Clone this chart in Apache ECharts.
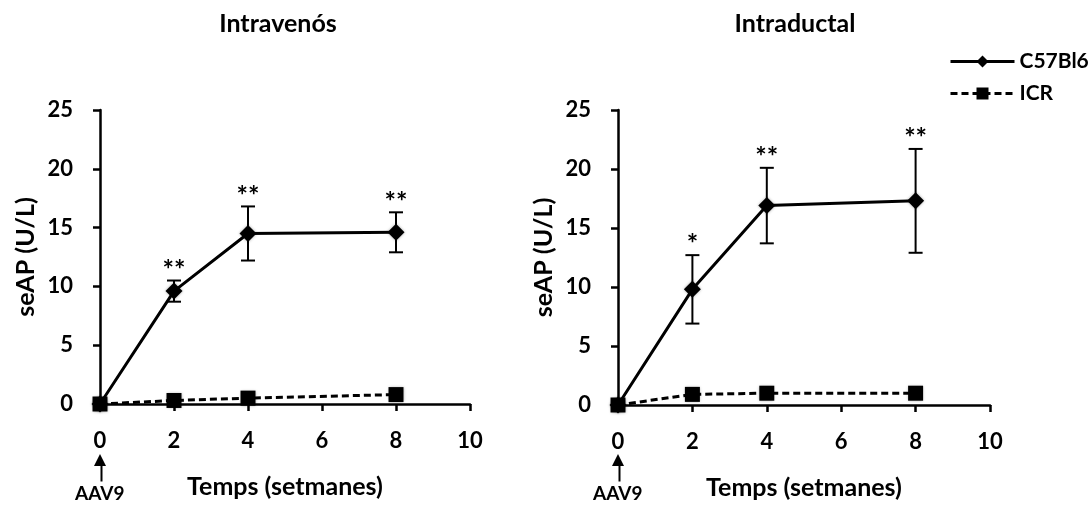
<!DOCTYPE html>
<html>
<head>
<meta charset="utf-8">
<script src="https://cdn.jsdelivr.net/npm/echarts@6/dist/echarts.min.js"></script>
<style>
  html, body { margin: 0; padding: 0; background: #fff; }
  #chart { width: 1091px; height: 506px; }
</style>
</head>
<body>
<div id="chart"></div>
<script>
// weeks after AAV9 injection
const weeks = [0, 2, 4, 8]
const xTicks = [0, 2, 4, 6, 8, 10]
const yTicks = [0, 5, 10, 15, 20, 25]

// Intravenós
const ivC57 = [0, 9.6, 14.5, 14.6]
const ivC57Err = [0, 0.9, 2.3, 1.7]
const ivICR = [0, 0.3, 0.5, 0.8]
const ivStars = ['', '**', '**', '**']

// Intraductal
const idC57 = [0, 9.8, 16.9, 17.3]
const idC57Err = [0, 2.9, 3.2, 4.4]
const idICR = [0, 0.9, 1.0, 1.0]
const idStars = ['', '*', '**', '**']

const FONT = 'Lato'

const chart = echarts.init(document.getElementById('chart'))

function pairs (vals) {
  return weeks.map((w, i) => [w, vals[i]])
}

function xAxisFor (idx) {
  return {
    type: 'value',
    gridIndex: idx,
    min: xTicks[0],
    max: xTicks[xTicks.length - 1],
    interval: 2,
    name: 'Temps (setmanes)',
    nameLocation: 'middle',
    nameGap: 70,
    nameTextStyle: { fontFamily: FONT, fontWeight: 'bold', fontSize: 25, color: '#000' },
    axisLine: { lineStyle: { color: '#000', width: 2.5 } },
    axisTick: { lineStyle: { color: '#000', width: 2.5 }, length: 7 },
    axisLabel: { fontFamily: FONT, fontWeight: 'bold', fontSize: 22, color: '#000', margin: 26 },
    splitLine: { show: false }
  }
}

function yAxisFor (idx) {
  return {
    type: 'value',
    gridIndex: idx,
    min: yTicks[0],
    max: yTicks[yTicks.length - 1],
    interval: 5,
    name: 'seAP (U/L)',
    nameLocation: 'middle',
    nameGap: 62,
    nameRotate: 90,
    nameTextStyle: { fontFamily: FONT, fontWeight: 'bold', fontSize: 25, color: '#000' },
    axisLine: { show: true, lineStyle: { color: '#000', width: 2.5 } },
    axisTick: { show: true, lineStyle: { color: '#000', width: 2.5 }, length: 7 },
    axisLabel: { fontFamily: FONT, fontWeight: 'bold', fontSize: 22, color: '#000', margin: 27 },
    splitLine: { show: false }
  }
}

function errorSeries (idx, vals, errs, stars) {
  return {
    type: 'custom',
    xAxisIndex: idx,
    yAxisIndex: idx,
    silent: true,
    z: 1,
    data: weeks.map((w, i) => [w, vals[i] - errs[i], vals[i] + errs[i], i]),
    renderItem (params, api) {
      const i = api.value(3)
      const lo = api.coord([api.value(0), api.value(1)])
      const hi = api.coord([api.value(0), api.value(2)])
      const children = []
      const st = { stroke: '#000', lineWidth: 2 }
      if (errs[i] > 0) {
        children.push({ type: 'line', shape: { x1: hi[0], y1: hi[1], x2: lo[0], y2: lo[1] }, style: st })
        children.push({ type: 'line', shape: { x1: hi[0] - 7, y1: hi[1], x2: hi[0] + 7, y2: hi[1] }, style: st })
        children.push({ type: 'line', shape: { x1: lo[0] - 7, y1: lo[1], x2: lo[0] + 7, y2: lo[1] }, style: st })
      }
      if (stars[i]) {
        children.push({
          type: 'text',
          style: {
            x: hi[0], y: hi[1] + 3, text: stars[i],
            font: 'bold 27px ' + FONT, fill: '#000',
            align: 'center', verticalAlign: 'bottom'
          }
        })
      }
      return { type: 'group', children }
    }
  }
}

function lineSeries (idx, name, vals, symbol, size, dashed) {
  return {
    name,
    type: 'line',
    xAxisIndex: idx,
    yAxisIndex: idx,
    data: pairs(vals),
    symbol,
    symbolSize: size,
    z: 3,
    lineStyle: { color: '#000', width: 3, type: dashed ? [7, 4] : 'solid' },
    itemStyle: { color: '#000', shadowColor: 'rgba(0,0,0,0.35)', shadowBlur: 3 },
    animation: false
  }
}

function aav9 (x) {
  return [
    {
      type: 'line', left: x - 1, top: 462,
      shape: { x1: 0, y1: 0, x2: 0, y2: 17 },
      style: { stroke: '#000', lineWidth: 2 }
    },
    {
      type: 'polygon',
      shape: { points: [[x - 6, 466], [x + 6, 466], [x, 454]] },
      style: { fill: '#000' }
    },
    {
      type: 'text', left: x - 25, top: 484,
      style: { text: 'AAV9', font: 'bold 19px ' + FONT, fill: '#000' }
    }
  ]
}

chart.setOption({
  animation: false,
  title: [
    { text: 'Intravenós', left: 273, top: 6, textAlign: 'center',
      textStyle: { fontFamily: FONT, fontWeight: 'bold', fontSize: 25, color: '#000' } },
    { text: 'Intraductal', left: 790, top: 6, textAlign: 'center',
      textStyle: { fontFamily: FONT, fontWeight: 'bold', fontSize: 25, color: '#000' } }
  ],
  legend: {
    left: 944,
    top: 46,
    orient: 'vertical',
    itemWidth: 64,
    itemHeight: 15,
    itemGap: 11,
    data: ['C57Bl6', 'ICR'],
    lineStyle: { width: 3 },
    textStyle: { fontFamily: FONT, fontWeight: 'bold', fontSize: 21, color: '#000' }
  },
  grid: [
    { left: 100, right: 621, top: 110, bottom: 102 },
    { left: 618, right: 101, top: 110, bottom: 101 }
  ],
  xAxis: [xAxisFor(0), xAxisFor(1)],
  yAxis: [yAxisFor(0), yAxisFor(1)],
  series: [
    errorSeries(0, ivC57, ivC57Err, ivStars),
    lineSeries(0, 'C57Bl6', ivC57, 'diamond', 17, false),
    lineSeries(0, 'ICR', ivICR, 'rect', 15, true),
    errorSeries(1, idC57, idC57Err, idStars),
    lineSeries(1, 'C57Bl6', idC57, 'diamond', 17, false),
    lineSeries(1, 'ICR', idICR, 'rect', 15, true)
  ],
  graphic: aav9(100).concat(aav9(618))
})
</script>
</body>
</html>
